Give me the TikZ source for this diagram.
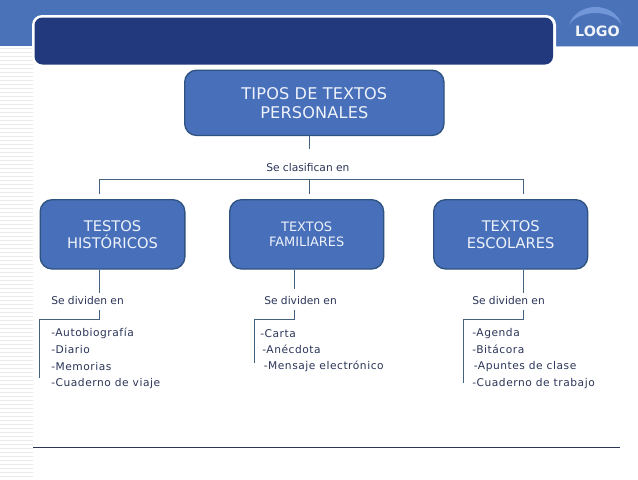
\documentclass[tikz,border=0pt]{standalone}
\usepackage{fontspec}
\setmainfont{DejaVu Sans}
\newfontfamily\listfont[LetterSpace=5]{DejaVu Sans}
\newfontfamily\rootfont[LetterSpace=1]{DejaVu Sans}
\definecolor{band}{HTML}{4A72B8}
\definecolor{dark}{HTML}{23397D}
\definecolor{boxfill}{HTML}{4870BA}
\definecolor{boxline}{HTML}{2F5380}
\definecolor{wire}{HTML}{44627F}
\definecolor{ink}{HTML}{2B3558}
\definecolor{stripe}{HTML}{EBEBEB}
\definecolor{boxtext}{HTML}{EEF2FA}
\definecolor{arc}{HTML}{7297D8}
\tikzset{
  x=0.75pt,y=-0.75pt,
  bigbox/.style={draw=boxline,line width=1pt,fill=boxfill,rounded corners=9pt,text=boxtext,align=center,inner sep=0pt,anchor=north west,font=\fontsize{11pt}{12.9pt}\selectfont},
  rootbox/.style={bigbox,font=\rootfont\fontsize{12.1pt}{14.3pt}\selectfont},
  smallbox/.style={bigbox,font=\fontsize{9.7pt}{11.4pt}\selectfont},
  lbl/.style={text=ink,anchor=west,inner sep=0pt,font=\fontsize{8pt}{9pt}\selectfont},
  item/.style={lbl,font=\listfont\fontsize{8pt}{9pt}\selectfont},
  wirel/.style={draw=wire,line width=0.7pt},
}
\begin{document}
\begin{tikzpicture}
\useasboundingbox (0,0) rectangle (638,479);
\fill[white] (0,0) rectangle (638,479);
% header band
\fill[band] (0,0) rectangle (638,46);
\draw[color=white!60!band,line width=0.8pt] (556,46.3) -- (638,46.3);
% left stripes
\foreach \yy in {48,52,...,476}{\fill[stripe] (0,\yy) rectangle (33,\yy+1.4);}
% title bar
\fill[white] (32,15) [rounded corners=7.5pt] rectangle (556,67);
\fill[dark] (34.5,17.5) [rounded corners=6pt] rectangle (553,64.5);
% logo
\fill[arc] (569,25) .. controls (577,1) and (614,1) .. (622,25) .. controls (612,9) and (579,9) .. (569,25) -- cycle;
\node[inner sep=0pt,text=white!92!band] (logo) at (597.5,31) {\fontsize{10.7pt}{12pt}\bfseries\selectfont LOGO};
% boxes
\node[rootbox,minimum width=194.5pt,minimum height=49pt] (root) at (184,69.5) {TIPOS DE TEXTOS\\PERSONALES};
\node[bigbox,minimum width=108.5pt,minimum height=52pt] (hist) at (39.5,199) {TESTOS\\HISTÓRICOS};
\node[smallbox,minimum width=115.5pt,minimum height=52pt] (fam) at (229,199) {TEXTOS\\FAMILIARES};
\node[bigbox,minimum width=115.5pt,minimum height=52pt] (esc) at (433,199) {TEXTOS\\ESCOLARES};
% labels
\node[lbl] (clas) at (266,168) {Se clasifican en};
\node[lbl] (dh) at (51,301) {Se dividen en};
\node[lbl] (df) at (264,301) {Se dividen en};
\node[lbl] (de) at (472,301) {Se dividen en};
\node[item] (h1) at (51,333.5) {-Autobiografía};
\node[item] (h2) at (51,349.5) {-Diario};
\node[item] (h3) at (51,366.5) {-Memorias};
\node[item] (h4) at (51,383.5) {-Cuaderno de viaje};
\node[item] (f1) at (260,333.5) {-Carta};
\node[item] (f2) at (262,349.5) {-Anécdota};
\node[item] (f3) at (263.5,366.5) {-Mensaje electrónico};
\node[item] (e1) at (472,333.5) {-Agenda};
\node[item] (e2) at (472,349.5) {-Bitácora};
\node[item] (e3) at (473.5,366.5) {-Apuntes de clase};
\node[item] (e4) at (472,383.5) {-Cuaderno de trabajo};
% free ends
\coordinate (rb) at (309.5,149);
\coordinate (rc) at (309.5,179);
\coordinate (ta) at (99.5,194);
\coordinate (tb) at (309.5,194);
\coordinate (tc) at (523.5,194);
\coordinate (ha) at (99.5,293);
\coordinate (hb) at (99.5,310);
\coordinate (hc) at (39.5,378);
\coordinate (fa) at (294.5,289);
\coordinate (fb) at (294.5,310);
\coordinate (fc) at (254.5,363);
\coordinate (ea) at (523.5,293);
\coordinate (eb) at (523.5,310);
\coordinate (ec) at (463.5,383);
% connectors
\draw[wirel] (root.south -| rb) -- (rb);
\draw[wirel] (ta) -- (ta |- rc) -- (tc |- rc) -- (tc);
\draw[wirel] (rc) -- (tb);
\draw[wirel] (hist.south -| ha) -- (ha);
\draw[wirel] (hb) -- (99.5,319) -- (39.5,319) -- (hc);
\draw[wirel] (fam.south -| fa) -- (fa);
\draw[wirel] (fb) -- (294.5,319) -- (254.5,319) -- (fc);
\draw[wirel] (esc.south -| ea) -- (ea);
\draw[wirel] (eb) -- (523.5,319) -- (463.5,319) -- (ec);
% bottom rule
\draw[color=ink,line width=0.9pt] (33,447.3) -- (620,447.3);
\end{tikzpicture}
\end{document}
